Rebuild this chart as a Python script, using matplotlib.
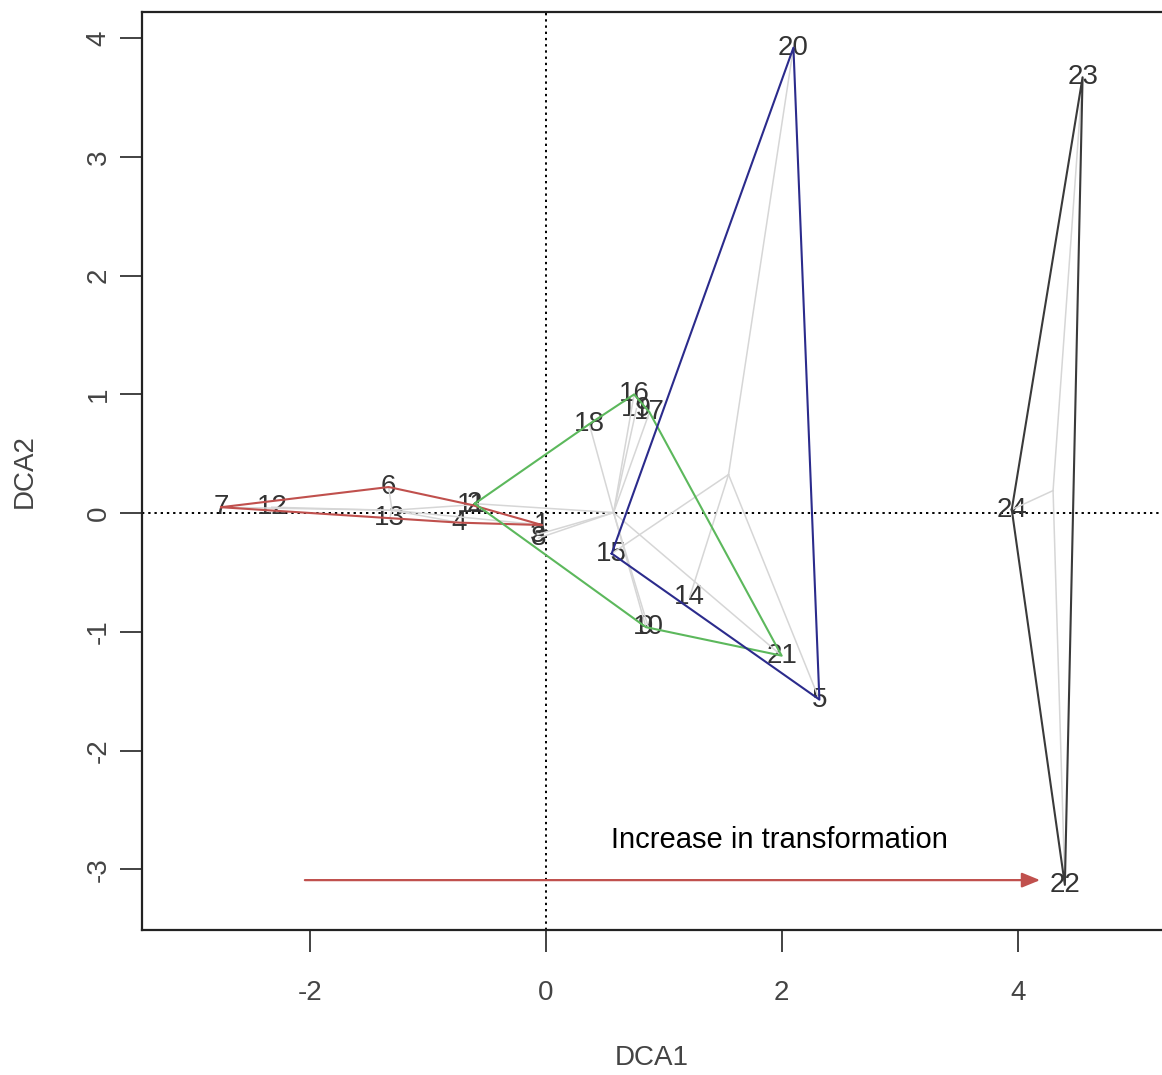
import numpy as np
import matplotlib.pyplot as plt

plt.rcParams['axes.unicode_minus'] = False

# site scores
site = [str(i) for i in range(1, 25)]
dca1 = [-0.03, -0.60, -0.07, -0.73, 2.32, -1.33, -2.75, -0.06, 0.85, 0.87,
        -0.63, -2.32, -1.32, 1.22, 0.56, 0.75, 0.88, 0.37, 0.77, 2.10,
        2.00, 4.40, 4.55, 3.95]
dca2 = [-0.10, 0.08, -0.18, -0.08, -1.57, 0.22, 0.05, -0.21, -0.96, -0.96,
        0.07, 0.05, -0.04, -0.71, -0.34, 1.00, 0.85, 0.75, 0.88, 3.92,
        -1.20, -3.13, 3.67, 0.03]
group = ['A', 'B', 'B', 'A', 'C', 'A', 'A', 'B', 'B', 'B',
         'A', 'A', 'A', 'C', 'C', 'B', 'B', 'B', 'B', 'C',
         'B', 'D', 'D', 'D']
group_names = ['A', 'B', 'C', 'D']
hull_colors = ['#c0504d', '#5cb85c', '#2b2b8c', '#3a3a3a']

arrow_from = (-2.04, -3.09)
arrow_to = (4.19, -3.09)
arrow_text = 'Increase in transformation'


def convex_hull(pts):
    pts = sorted(set(pts))
    if len(pts) < 3:
        return pts

    def cross(o, a, b):
        return (a[0] - o[0]) * (b[1] - o[1]) - (a[1] - o[1]) * (b[0] - o[0])

    lower = []
    for p in pts:
        while len(lower) >= 2 and cross(lower[-2], lower[-1], p) <= 0:
            lower.pop()
        lower.append(p)
    upper = []
    for p in reversed(pts):
        while len(upper) >= 2 and cross(upper[-2], upper[-1], p) <= 0:
            upper.pop()
        upper.append(p)
    return lower[:-1] + upper[:-1]


x = np.array(dca1)
y = np.array(dca2)
g = np.array(group)

fig = plt.figure(figsize=(11.62, 10.75), dpi=100)
ax = fig.add_axes([142 / 1162, 1 - 930 / 1075, 1022 / 1162, 918 / 1075])

# reference lines
ax.axhline(0, color='black', lw=1.4, ls=(0, (1.2, 2)), zorder=1)
ax.axvline(0, color='black', lw=1.4, ls=(0, (1.2, 2)), zorder=1)

# site labels
for s, xi, yi in zip(site, x, y):
    ax.text(xi, yi, s, ha='center', va='center', fontsize=20,
            color='#333333', family='Liberation Sans', zorder=2)

# spiders to group centroids
for name in group_names:
    m = g == name
    cx, cy = x[m].mean(), y[m].mean()
    for xi, yi in zip(x[m], y[m]):
        ax.plot([cx, xi], [cy, yi], color='#d6d6d6', lw=1.1, zorder=3)

# convex hulls
for name, col in zip(group_names, hull_colors):
    m = g == name
    h = convex_hull(list(zip(x[m], y[m])))
    h = h + [h[0]]
    ax.plot([p[0] for p in h], [p[1] for p in h], color=col, lw=1.5, zorder=4)

# arrow + note
ax.annotate('', xy=arrow_to, xytext=arrow_from,
            arrowprops=dict(arrowstyle='-|>,head_length=1.1,head_width=0.45',
                            color='#c0504d', lw=1.6, shrinkA=0, shrinkB=0),
            zorder=5)
ax.text(0.55, -2.75, arrow_text, fontsize=21, color='black',
        family='Liberation Sans', va='center', ha='left', zorder=5)

ax.set_xlim(-3.42, 5.24)
ax.set_ylim(-3.51, 4.22)
ax.set_xticks([-2, 0, 2, 4])
ax.set_yticks([-3, -2, -1, 0, 1, 2, 3, 4])
for lab in ax.get_yticklabels():
    lab.set_rotation(90)
    lab.set_va('center')
ax.tick_params(direction='out', length=16, width=1.2, colors='#222222',
               labelsize=20, labelcolor='#444444')
ax.tick_params(axis='x', pad=20)
ax.tick_params(axis='y', pad=6)
for lab in ax.get_xticklabels() + ax.get_yticklabels():
    lab.set_family('Liberation Sans')
ax.spines['right'].set_visible(False)
for sp in ['left', 'bottom', 'top']:
    ax.spines[sp].set_linewidth(1.6)
    ax.spines[sp].set_color('#222222')

fig.text(652 / 1162, 1 - 1058 / 1075, 'DCA1', fontsize=20, color='#444444',
         family='Liberation Sans', ha='center', va='center')
fig.text(25 / 1162, 1 - 471 / 1075, 'DCA2', fontsize=20, color='#444444',
         family='Liberation Sans', ha='center', va='center', rotation=90)

fig.savefig('out.png', dpi=100)
